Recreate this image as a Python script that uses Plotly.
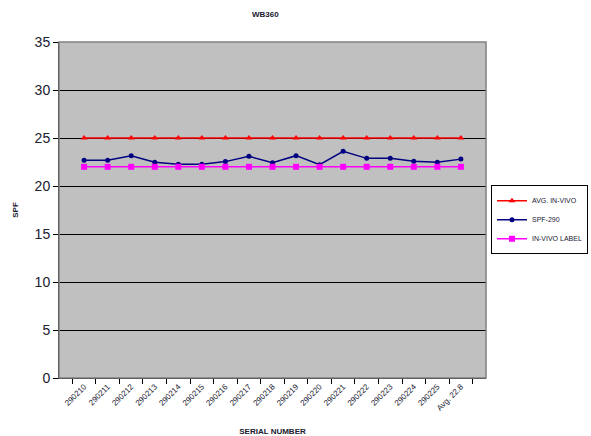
import plotly.graph_objects as go

# Serial numbers tested, plus the overall average column
serials = ["290210", "290211", "290212", "290213", "290214", "290215", "290216",
           "290217", "290218", "290219", "290220", "290221", "290222", "290223",
           "290224", "290225", "Avg. 22.8"]

avg_in_vivo = [25] * 17
spf_290 = [22.68, 22.68, 23.16, 22.47, 22.26, 22.26, 22.54, 23.09, 22.43,
           23.16, 22.22, 23.61, 22.88, 22.88, 22.57, 22.47, 22.8]
in_vivo_label = [22] * 17

y_ticks = [0, 5, 10, 15, 20, 25, 30, 35]

FONT = "Liberation Sans, Arial, sans-serif"
TEXT = "#202030"

fig = go.Figure()
fig.add_trace(go.Scatter(
    x=serials, y=avg_in_vivo, name="AVG. IN-VIVO", mode="lines+markers",
    line=dict(color="#FF0000", width=1.5),
    marker=dict(symbol="triangle-up", size=6, color="#FF0000"),
))
fig.add_trace(go.Scatter(
    x=serials, y=spf_290, name="SPF-290", mode="lines+markers",
    line=dict(color="#000080", width=1.5),
    marker=dict(symbol="circle", size=5, color="#000080"),
))
fig.add_trace(go.Scatter(
    x=serials, y=in_vivo_label, name="IN-VIVO LABEL", mode="lines+markers",
    line=dict(color="#FF00FF", width=1.5),
    marker=dict(symbol="square", size=6, color="#FF00FF"),
))

fig.update_layout(
    width=591, height=436,
    margin=dict(l=59, r=105, t=42, b=58, autoexpand=False),
    paper_bgcolor="white",
    plot_bgcolor="#C0C0C0",
    font=dict(family=FONT, color=TEXT),
    showlegend=True,
    legend=dict(
        x=1.0117, y=0.574, xanchor="left", yanchor="top",
        bgcolor="white", bordercolor="black", borderwidth=1,
        font=dict(size=7, color=TEXT), tracegroupgap=0,
        itemwidth=30,
    ),
    annotations=[
        dict(text="<b>WB360</b>", x=0.484, y=1.0, xref="paper", yref="paper",
             yshift=28, xanchor="center", yanchor="middle", showarrow=False,
             font=dict(size=8, color=TEXT)),
    ],
    shapes=[
        dict(type="rect", xref="paper", yref="paper", x0=0, x1=1, y0=0, y1=1,
             line=dict(color="#808080", width=1.5), layer="above"),
    ],
)

fig.update_xaxes(
    type="category",
    tickangle=-45,
    tickfont=dict(size=8, color=TEXT),
    ticks="outside", ticklen=5, tickcolor="black", tickson="boundaries",
    showline=True, linecolor="black", linewidth=1,
    showgrid=False,
    title=dict(text="<b>SERIAL NUMBER</b>", font=dict(size=8, color=TEXT), standoff=16),
)
fig.update_yaxes(
    range=[0, 35], tickvals=y_ticks,
    tickfont=dict(size=14, color=TEXT),
    ticks="outside", ticklen=5, tickcolor="black",
    showline=True, linecolor="black", linewidth=1,
    showgrid=True, gridcolor="black", gridwidth=1,
    zeroline=False,
    title=dict(text="<b>SPF</b>", font=dict(size=8, color=TEXT), standoff=14),
)

fig.write_html("out.html")
